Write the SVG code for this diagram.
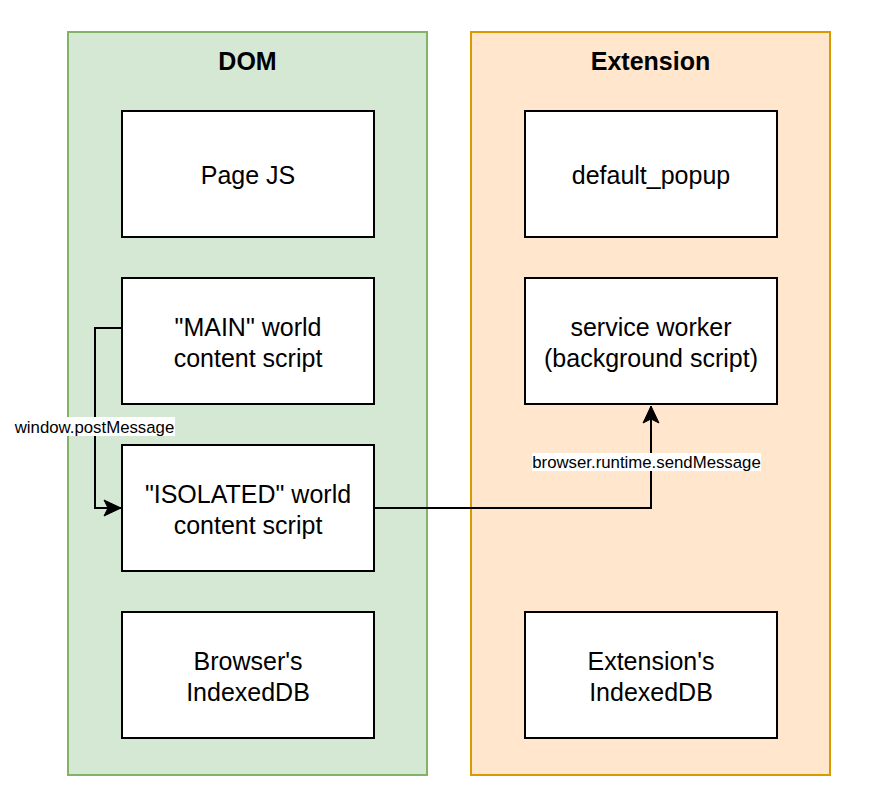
<svg xmlns="http://www.w3.org/2000/svg" width="879" height="806" viewBox="0 0 879 806">
<style>
.box{fill:#ffffff;stroke:#000000;stroke-width:2}
.t{font-family:"Liberation Sans",Arial,sans-serif;font-size:25px;fill:#000;text-anchor:middle}
.title{font-family:"Liberation Sans",Arial,sans-serif;font-size:25px;font-weight:bold;fill:#000;text-anchor:middle}
.lbl{font-family:"Liberation Sans",Arial,sans-serif;font-size:16.8px;fill:#000;text-anchor:middle}
.edge{fill:none;stroke:#000;stroke-width:2}
</style>
<defs>
<marker id="arr" markerUnits="userSpaceOnUse" viewBox="-18 -10 20 20" refX="0" refY="0" markerWidth="20" markerHeight="20" orient="auto">
<path d="M0,0 L-17,-8 L-13,0 L-17,8 Z" fill="#000" stroke="#000" stroke-width="1"/>
</marker>
</defs>
<rect width="879" height="806" fill="#ffffff"/>
<g id="dom">
<rect x="68" y="32" width="359" height="743" fill="#d5e8d4" stroke="#82b366" stroke-width="2"/>
<text class="title" x="247.5" y="70">DOM</text>
</g>
<g id="extension">
<rect x="471" y="32" width="359" height="743" fill="#ffe6cc" stroke="#d79b00" stroke-width="2"/>
<text class="title" x="650.5" y="70">Extension</text>
</g>
<g id="pagejs">
<rect class="box" x="122" y="111" width="252" height="126"/>
<text class="t" x="248" y="184">Page JS</text>
</g>
<g id="main">
<rect class="box" x="122" y="278" width="252" height="126"/>
<text class="t" x="248" y="336">"MAIN" world</text>
<text class="t" x="248" y="367">content script</text>
</g>
<g id="isolated">
<rect class="box" x="122" y="445" width="252" height="126"/>
<text class="t" x="248" y="503">"ISOLATED" world</text>
<text class="t" x="248" y="534">content script</text>
</g>
<g id="browseridb">
<rect class="box" x="122" y="612" width="252" height="126"/>
<text class="t" x="248" y="670">Browser's</text>
<text class="t" x="248" y="701">IndexedDB</text>
</g>
<g id="popup">
<rect class="box" x="525" y="111" width="252" height="126"/>
<text class="t" x="651" y="184">default_popup</text>
</g>
<g id="worker">
<rect class="box" x="525" y="278" width="252" height="126"/>
<text class="t" x="651" y="336">service worker</text>
<text class="t" x="651" y="367">(background script)</text>
</g>
<g id="extidb">
<rect class="box" x="525" y="612" width="252" height="126"/>
<text class="t" x="651" y="670">Extension's</text>
<text class="t" x="651" y="701">IndexedDB</text>
</g>
<g id="connectors">
<path class="edge" d="M122,328 H95 V508 H121" marker-end="url(#arr)"/>
<rect x="14" y="417" width="161" height="19" fill="#ffffff"/>
<text class="lbl" x="94.5" y="433">window.postMessage</text>
<path class="edge" d="M374,508 H651 V406" marker-end="url(#arr)"/>
<rect x="532" y="453" width="229" height="18" fill="#ffffff"/>
<text class="lbl" x="646.5" y="468">browser.runtime.sendMessage</text>
</g>
</svg>
